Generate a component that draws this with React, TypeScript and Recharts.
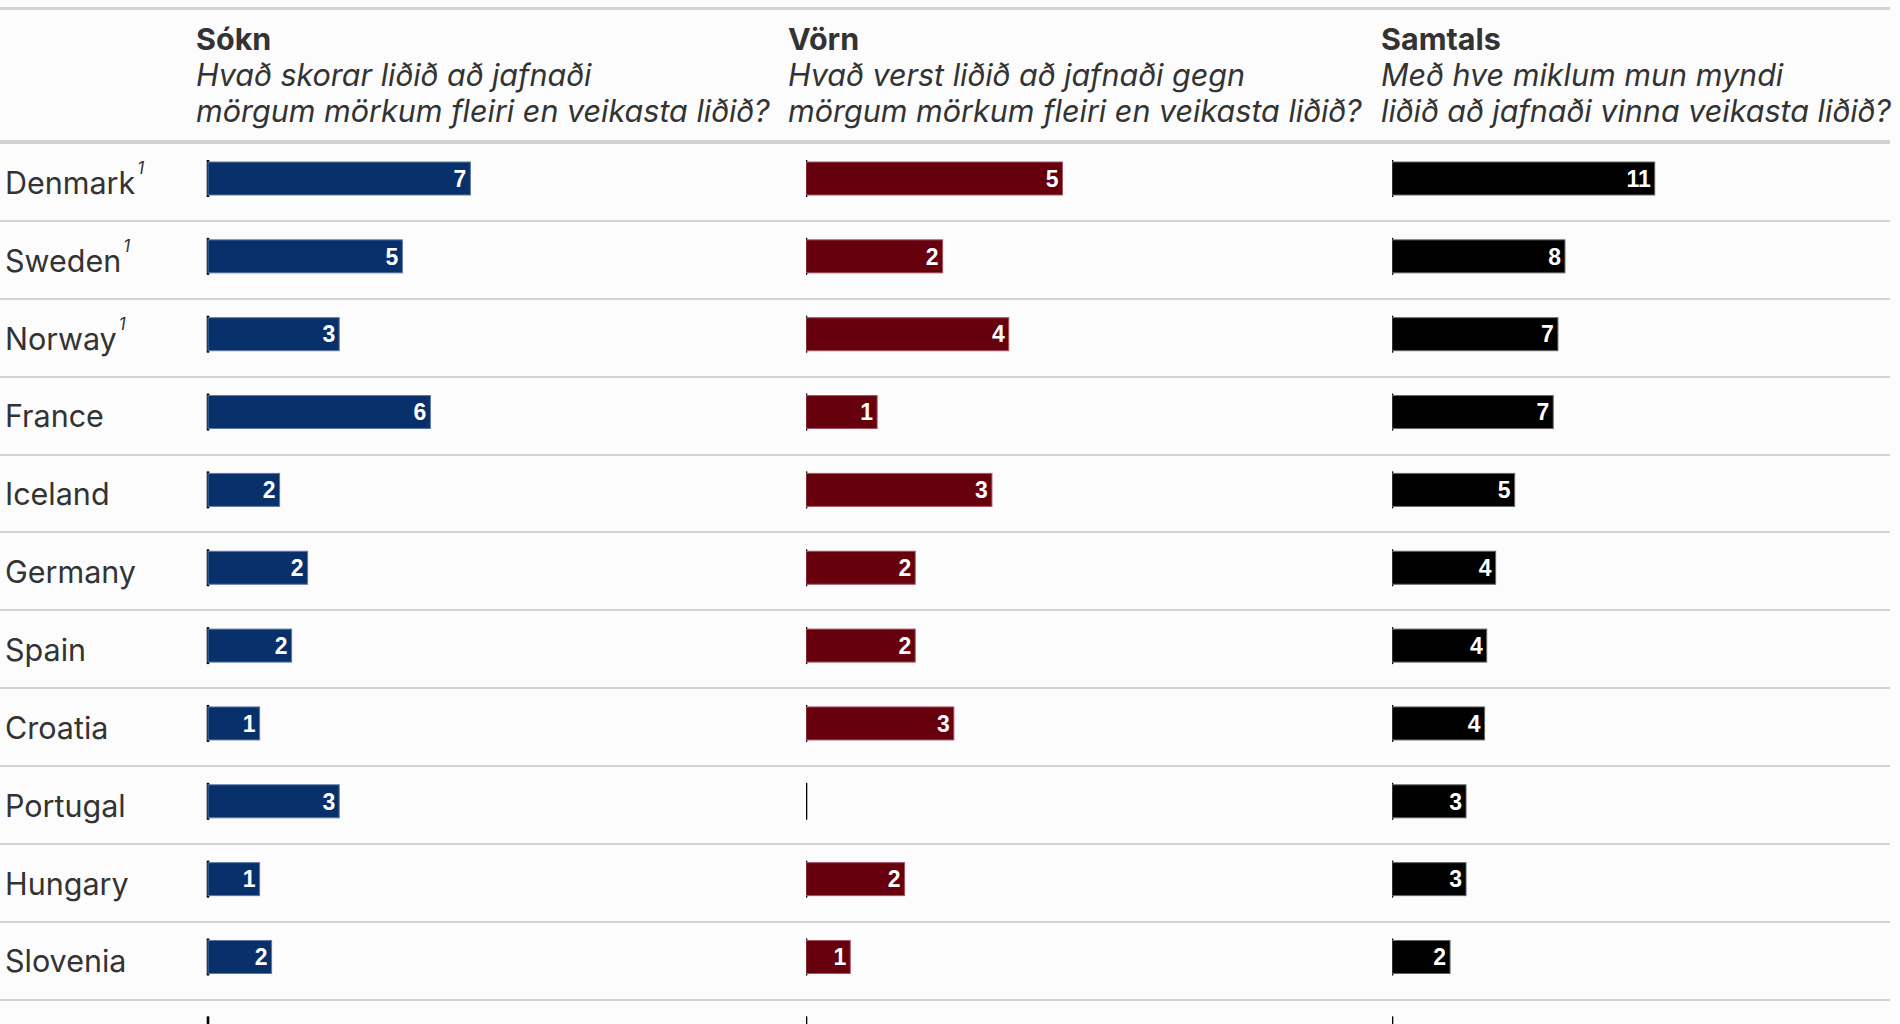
import React from 'react'
import { BarChart, Bar, XAxis, YAxis } from 'recharts'

// Row categories (last row is cut off at the bottom of the picture)
const countries = ['Denmark', 'Sweden', 'Norway', 'France', 'Iceland', 'Germany', 'Spain', 'Croatia', 'Portugal', 'Hungary', 'Slovenia', '']
const footnotes = ['1', '1', '1', '', '', '', '', '', '', '', '', '']

// Sókn (attack)
const soknValues = [6.56, 4.86, 3.28, 5.56, 1.79, 2.49, 2.09, 1.29, 3.28, 1.29, 1.59, 0]
const soknLabels = ['7', '5', '3', '6', '2', '2', '2', '1', '3', '1', '2', '']

// Vörn (defence)
const vornValues = [4.58, 2.44, 3.62, 1.27, 3.32, 1.95, 1.95, 2.64, 0, 1.76, 0.79, 0]
const vornLabels = ['5', '2', '4', '1', '3', '2', '2', '3', '', '2', '1', '']

// Samtals (total)
const samtalsValues = [11.18, 7.36, 7.06, 6.86, 5.22, 4.41, 4.03, 3.94, 3.15, 3.15, 2.47, 0]
const samtalsLabels = ['11', '8', '7', '7', '5', '4', '4', '4', '3', '3', '2', '']

const headerTitles = ['Sókn', 'Vörn', 'Samtals']
const headerLines = [
    ['Hvað skorar liðið að jafnaði', 'mörgum mörkum fleiri en veikasta liðið?'],
    ['Hvað verst liðið að jafnaði gegn', 'mörgum mörkum fleiri en veikasta liðið?'],
    ['Með hve miklum mun myndi', 'liðið að jafnaði vinna veikasta liðið?'],
]

const TEXT = '#333333'
const RULE = '#D3D3D3'
const FONT = 'Inter, "Noto Sans", sans-serif'
const ROW_TOP = 144
const ROW_H = 77.85
const CHART_TOP = 140
const CHART_H = ROW_H * countries.length

const buildData = (values: number[], labels: string[]) =>
    countries.map((name, i) => ({ name, value: values[i], label: labels[i] }))

const NameTick = (props: any) => {
    const name = props.payload?.value ?? ''
    const note = footnotes[countries.indexOf(name)] || ''
    return (
        <text x={5} y={props.y + 15} fontSize={30.5} fill={TEXT} fontFamily={FONT}>
            {name}
            {note && (
                <tspan dx={2} dy={-20} fontSize={17} fontStyle="italic">{note}</tspan>
            )}
        </text>
    )
}

const makeBar = (fill: string, stroke: string) => (p: any) => {
    const { x, y, width, height } = p
    if (!width || width < 0.5) return <g />
    const label = p.payload?.label ?? ''
    return (
        <g>
            <rect x={x} y={y} width={width} height={height} fill={fill} stroke={stroke} strokeWidth={1} />
            <text
                x={x + width - 4}
                y={y + height / 2 + 8.3}
                textAnchor="end"
                fill="#FFFFFF"
                fontSize={23}
                fontWeight="bold"
                fontFamily='"Liberation Sans", Arial, sans-serif'
            >
                {label}
            </text>
        </g>
    )
}

const zeroTick = (p: any) => (
    <rect x={p.x - 1.3} y={p.y - 2} width={2.6} height={p.height + 4} fill="#000000" />
)

interface ColumnProps {
    values: number[]
    labels: string[]
    left: number
    width: number
    domainMax: number
    axisWidth: number
    fill: string
    stroke: string
    names?: boolean
}

function Column({ values, labels, left, width, domainMax, axisWidth, fill, stroke, names }: ColumnProps) {
    return (
        <div style={{ position: 'absolute', left, top: CHART_TOP }}>
            <BarChart
                layout="vertical"
                width={width}
                height={CHART_H}
                data={buildData(values, labels)}
                margin={{ top: 0, right: 0, bottom: 0, left: 0 }}
            >
                <XAxis type="number" hide domain={[0, domainMax]} />
                <YAxis
                    type="category"
                    dataKey="name"
                    width={axisWidth}
                    hide={!names}
                    axisLine={false}
                    tickLine={false}
                    interval={0}
                    tick={<NameTick />}
                />
                <Bar
                    dataKey="value"
                    barSize={33}
                    isAnimationActive={false}
                    shape={makeBar(fill, stroke)}
                    background={zeroTick}
                />
            </BarChart>
        </div>
    )
}

export default function App() {
    const headerLeft = [196, 788, 1381]
    return (
        <div
            style={{
                position: 'absolute',
                left: 0,
                top: 0,
                width: 1900,
                height: 1024,
                overflow: 'hidden',
                background: '#FCFCFC',
                fontFamily: FONT,
                color: TEXT,
            }}
        >
            {/* top and header rules */}
            <div style={{ position: 'absolute', left: 0, top: 7, width: 1890, height: 3, background: RULE }} />
            <div style={{ position: 'absolute', left: 0, top: 140, width: 1890, height: 4, background: RULE }} />

            {/* column headers */}
            {headerTitles.map((t, i) => (
                <div
                    key={t}
                    style={{
                        position: 'absolute',
                        left: headerLeft[i],
                        top: 20.5,
                        fontSize: 30.5,
                        lineHeight: '36px',
                        whiteSpace: 'nowrap',
                    }}
                >
                    <div style={{ fontWeight: 700 }}>{t}</div>
                    {headerLines[i].map((l) => (
                        <div key={l} style={{ fontStyle: 'italic' }}>{l}</div>
                    ))}
                </div>
            ))}

            {/* row separators */}
            {countries.map((c, i) => (
                <div
                    key={'sep' + i}
                    style={{
                        position: 'absolute',
                        left: 0,
                        top: ROW_TOP + ROW_H * i + 76,
                        width: 1890,
                        height: 2,
                        background: RULE,
                    }}
                />
            ))}

            <Column values={soknValues} labels={soknLabels} left={0} width={768} domainMax={14}
                axisWidth={208} fill="#08306B" stroke="#5B79A3" names />
            <Column values={vornValues} labels={vornLabels} left={806} width={560} domainMax={10}
                axisWidth={0} fill="#67000D" stroke="#A45563" />
            <Column values={samtalsValues} labels={samtalsLabels} left={1392} width={470} domainMax={20}
                axisWidth={0} fill="#000000" stroke="#666666" />
        </div>
    )
}
